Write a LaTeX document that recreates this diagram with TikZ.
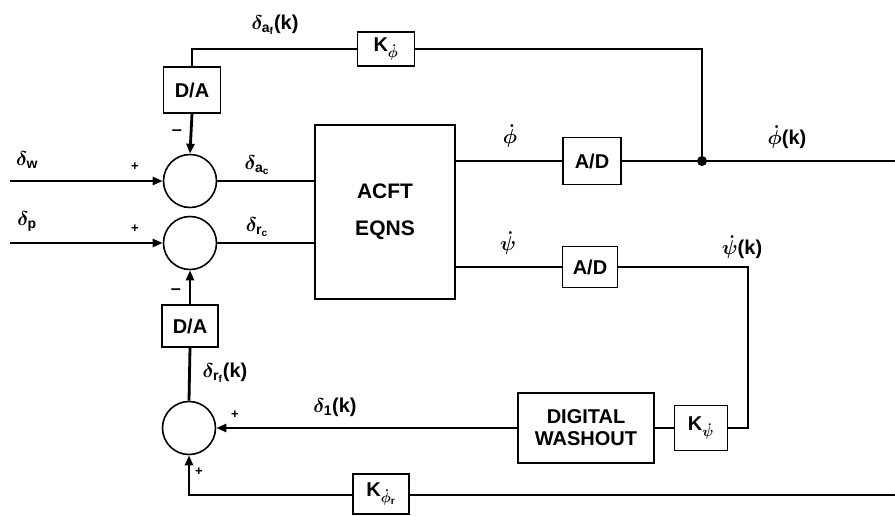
\documentclass[tikz,border=0pt]{standalone}
\usepackage{fix-cm}
\usepackage{amsmath}
\usepackage{fontspec}
\setmainfont{Liberation Sans}
\usetikzlibrary{arrows.meta}
\newcommand{\sbf}[1]{\text{\bfseries #1}}

\begin{document}
\begin{tikzpicture}[x=1pt, y=-1pt,
    bloc/.style={draw, line width=1.6pt, inner sep=0pt, font=\fontsize{20}{22}\selectfont\bfseries\boldmath},
    somme/.style={draw, circle, line width=1.6pt, minimum size=53pt, inner sep=0pt},
    signal/.style={line width=2.8pt},
    fleche/.style={signal, -{Triangle[length=10pt,width=8pt]}},
    lbl/.style={inner sep=0pt, font=\fontsize{20}{22}\selectfont\bfseries\boldmath},
    signe/.style={inner sep=0pt, font=\fontsize{13}{15}\selectfont\bfseries},
    moins/.style={inner sep=0pt, font=\fontsize{18}{20}\selectfont\bfseries}]
    % Cadre
    \useasboundingbox (0,0) rectangle (895,515);

    % Blocs
    \node[bloc, minimum width=140pt, minimum height=174pt, align=center,
          font=\fontsize{21}{37}\selectfont\bfseries] (acft) at (385,212) {ACFT\\EQNS};
    \node[bloc, minimum width=57pt, minimum height=34pt] (kphi) at (386,49) {K$_{\dot\phi}$};
    \node[bloc, minimum width=57pt, minimum height=46pt] (daa) at (192,90) {D/A};
    \node[bloc, minimum width=58pt, minimum height=47pt] (ada) at (592,161) {A/D};
    \node[bloc, minimum width=55pt, minimum height=41pt] (adb) at (590,267) {A/D};
    \node[bloc, minimum width=136pt, minimum height=70pt, align=center] (dw) at (586,428) {DIGITAL\\WASHOUT};
    \node[bloc, minimum width=53pt, minimum height=45pt] (kpsi) at (701,428) {K$_{\dot\psi}$};
    \node[bloc, minimum width=56pt, minimum height=42pt] (dab) at (190,326) {D/A};
    \node[bloc, minimum width=56pt, minimum height=40pt] (kphir) at (381,494) {K$_{\dot\phi_{\sbf{r}}}$};

    % Sommateurs
    \node[somme] (s1) at (190,181) {};
    \node[somme] (s2) at (190,243) {};
    \node[somme] (s3) at (189,428) {};

    % Points de liaison
    \coordinate (inw) at (10,181);
    \coordinate (inp) at (10,243);
    \coordinate (noeud) at (702,161);
    \coordinate (sortie) at (895,161);
    \coordinate (coin) at (748,267);
    \coordinate (entree) at (895,495);

    % Liaisons
    \draw[fleche] (inw) -- (s1.west);
    \draw[fleche] (inp) -- (s2.west);
    \draw[signal] (s1.east) -- (s1 -| acft.west);
    \draw[signal] (s2.east) -- (s2 -| acft.west);
    \draw[signal] (acft.east |- ada) -- (ada.west);
    \draw[signal] (ada.east) -- (noeud) -- (sortie);
    \fill (noeud) circle (5pt);
    \draw[signal] (noeud) -- (noeud |- kphi) -- (kphi.east);
    \draw[signal] (kphi.west) -- (kphi -| daa) -- (daa.north);
    \draw[fleche] (daa.south) -- (s1.north);
    \draw[signal] (acft.east |- adb) -- (adb.west);
    \draw[signal] (adb.east) -- (coin) -- (coin |- kpsi) -- (kpsi.east);
    \draw[signal] (kpsi.west) -- (dw.east);
    \draw[fleche] (dw.west) -- (s3.east);
    \draw[signal] (entree) -- (entree -| kphir.east);
    \draw[fleche] (kphir.west |- entree) -- (entree -| s3) -- (s3.south);
    \draw[signal] (s3.north) -- (dab.south);
    \draw[fleche] (dab.north) -- (s2.south);

    % Etiquettes
    \node[lbl] (lw) at (27,160) {$\delta_{\sbf{w}}$};
    \node[lbl] (lp) at (27,222) {$\delta_{\sbf{p}}$};
    \node[signe] (pw) at (135,167) {+};
    \node[signe] (pp) at (135,229) {+};
    \node[moins] (ma) at (177,133) {--};
    \node[moins] (mb) at (176,292) {--};
    \node[lbl] (lac) at (257,165) {$\delta_{\sbf{a}_{\sbf{c}}}$};
    \node[lbl] (lrc) at (257,227) {$\delta_{\sbf{r}_{\sbf{c}}}$};
    \node[lbl] (laf) at (275,25) {$\delta_{\sbf{a}_{\sbf{f}}}$(k)};
    \node[lbl] (lphi) at (510,136) {$\dot\phi$};
    \node[lbl] (lphik) at (787,137) {$\dot\phi$(k)};
    \node[lbl] (lpsi) at (508,243) {$\dot\psi$};
    \node[lbl] (lpsik) at (742,247) {$\dot\psi$(k)};
    \node[lbl] (lrf) at (225,373) {$\delta_{\sbf{r}_{\sbf{f}}}$(k)};
    \node[signe] (pd) at (235,415) {+};
    \node[lbl] (ld) at (335,407) {$\delta_{\sbf{1}}$(k)};
    \node[signe] (pb) at (199,472) {+};

\end{tikzpicture}
\end{document}
